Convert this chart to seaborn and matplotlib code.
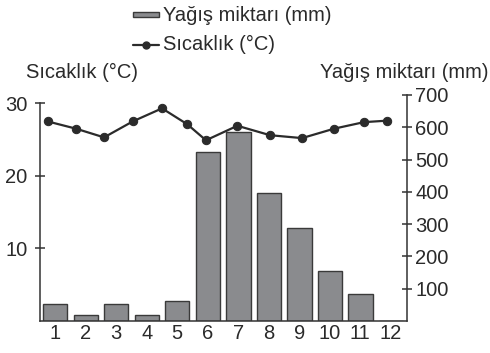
import matplotlib
matplotlib.use("Agg")
import matplotlib.pyplot as plt
import seaborn as sns
from matplotlib.patches import Patch
from matplotlib.lines import Line2D

sns.set_theme(style="white")
plt.rcParams['font.family'] = ['Liberation Sans', 'DejaVu Sans']

BAR = "#8a8b8e"
EDGE = "#3a3a3a"
LINE = "#2b2b2b"
AXC = "#333333"
TXT = "#2a2a2a"
FS = 14.5

# veriler
months = list(range(1, 13))
month_labels = [str(m) for m in months]
rain_mm = [52, 18, 52, 18, 61, 522, 585, 395, 287, 155, 85, 0]
temp_x = [0.75, 1.68, 2.6, 3.54, 4.5, 5.33, 5.94, 6.97, 8.04, 9.09, 10.14, 11.12, 11.86]
temp_c = [27.5, 26.5, 25.3, 27.5, 29.3, 27.1, 24.9, 26.9, 25.6, 25.2, 26.5, 27.4, 27.6]
rain_ticks = [100, 200, 300, 400, 500, 600, 700]
temp_ticks = [10, 20, 30]

fig = plt.figure(figsize=(4.9, 3.53), dpi=100)
ax = fig.add_axes([40 / 490, 1 - 321 / 353, (406.7 - 40) / 490, (321 - 95) / 353])

# yağış çubukları (sağ eksen)
sns.barplot(x=months, y=rain_mm, native_scale=True, width=0.8, color=BAR,
            saturation=1, edgecolor=EDGE, linewidth=1.0, errorbar=None,
            orient="x", ax=ax)

# sıcaklık çizgisi (sol eksen)
axT = ax.twinx()
sns.lineplot(x=temp_x, y=temp_c, ax=axT, color=LINE, marker="o", markersize=6,
             markeredgecolor=LINE, linewidth=1.6, sort=False)

ax.set_ylim(0, 700)
ax.yaxis.tick_right()
ax.set_yticks(rain_ticks)
ax.set_yticklabels([str(t) for t in rain_ticks])
for s in ["left", "top"]:
    ax.spines[s].set_visible(False)
for s in ["right", "bottom"]:
    ax.spines[s].set_visible(True)
    ax.spines[s].set_color(AXC)
    ax.spines[s].set_linewidth(1.1)

axT.set_ylim(0, 31.14)
axT.yaxis.tick_left()
axT.set_yticks(temp_ticks)
axT.set_yticklabels([str(t) for t in temp_ticks])
for s in ["right", "top", "bottom"]:
    axT.spines[s].set_visible(False)
axT.spines["left"].set_visible(True)
axT.spines["left"].set_bounds(0, 30)
axT.spines["left"].set_color(AXC)
axT.spines["left"].set_linewidth(1.1)

ax.set_xlim(0.5, 12.52)
ax.set_xticks(months)
ax.set_xticklabels(month_labels)
ax.set_xticks([m + 0.5 for m in months[:-1]], minor=True)
ax.tick_params(axis="x", which="major", length=0, pad=2, labelsize=FS, labelcolor=TXT)
ax.tick_params(axis="x", which="minor", length=7, width=1.1, direction="inout", color=AXC)
ax.tick_params(axis="y", which="major", length=7, width=1.1, direction="inout",
               color=AXC, pad=2.5, labelsize=FS, labelcolor=TXT)
axT.tick_params(axis="y", which="major", length=7, width=1.1, direction="inout",
                color=AXC, pad=5.5, labelsize=FS, labelcolor=TXT)
ax.set_xlabel("")
ax.set_ylabel("")
axT.set_ylabel("")

# eksen başlıkları
fig.text(81.7 / 490, 1 - 72 / 353, "Sıcaklık (°C)", ha="center", va="center",
         fontsize=FS, color=TXT)
fig.text(488 / 490, 1 - 72 / 353, "Yağış miktarı (mm)", ha="right", va="center",
         fontsize=FS, color=TXT)

# lejant
handles = [Patch(facecolor=BAR, edgecolor=EDGE, linewidth=1.0),
           Line2D([], [], color=LINE, marker="o", markersize=5, linewidth=1.6)]
fig.legend(handles, ["Yağış miktarı (mm)", "Sıcaklık (°C)"], loc="upper left",
           bbox_to_anchor=(121 / 490, 1.016), frameon=False, fontsize=FS,
           handlelength=1.3, handleheight=0.0, handletextpad=0.2,
           labelspacing=0.45, borderpad=0.1, labelcolor=TXT)

fig.savefig("out.png", dpi=100)
